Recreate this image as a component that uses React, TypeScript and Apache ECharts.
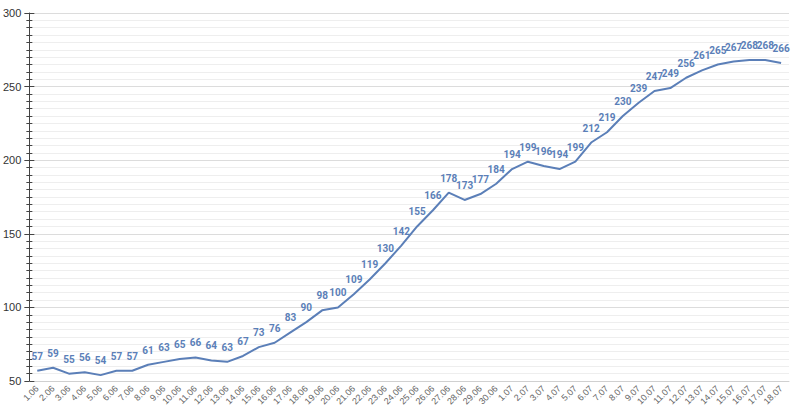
import React, { useEffect, useRef } from "react";
import * as echarts from "echarts";

const categories = [
  "1.06","2.06","3.06","4.06","5.06","6.06","7.06","8.06","9.06","10.06",
  "11.06","12.06","13.06","14.06","15.06","16.06","17.06","18.06","19.06","20.06",
  "21.06","22.06","23.06","24.06","25.06","26.06","27.06","28.06","29.06","30.06",
  "1.07","2.07","3.07","4.07","5.07","6.07","7.07","8.07","9.07","10.07",
  "11.07","12.07","13.07","14.07","15.07","16.07","17.07","18.07",
];

const values = [
  57,59,55,56,54,57,57,61,63,65,
  66,64,63,67,73,76,83,90,98,100,
  109,119,130,142,155,166,178,173,177,184,
  194,199,196,194,199,212,219,230,239,247,
  249,256,261,265,267,268,268,266,
];

const yMin = 50;
const yMax = 300;
const yStep = 50;

export default function App() {
  const ref = useRef<HTMLDivElement>(null);
  useEffect(() => {
    if (!ref.current) return;
    const chart = echarts.init(ref.current, null, { renderer: "svg" });
    const blue = "#5b7fb8";
    chart.setOption({
      animation: false,
      grid: { left: 29, right: 9, top: 13, bottom: 31, containLabel: false },
      xAxis: {
        type: "category",
        data: categories,
        boundaryGap: true,
        axisLine: { show: true, lineStyle: { color: "#d0d0d0" } },
        axisTick: { show: false },
        axisLabel: {
          interval: 0,
          rotate: 45,
          fontSize: 9,
          color: "#666",
          margin: 6,
          fontFamily: "Arial, Liberation Sans, sans-serif",
        },
        splitLine: { show: false },
      },
      yAxis: [
        {
          type: "value",
          min: yMin,
          max: yMax,
          interval: yStep,
          axisLine: { show: true, lineStyle: { color: "#444" } },
          axisTick: { show: true, length: 5, lineStyle: { color: "#444" } },
          minorTick: { show: true, splitNumber: 10, length: 3, lineStyle: { color: "#444" } },
          axisLabel: {
            color: "#333",
            fontSize: 11,
            margin: 8,
            fontFamily: "Arial, Liberation Sans, sans-serif",
          },
          splitLine: { show: true, lineStyle: { color: "#dcdcdc" } },
          minorSplitLine: { show: true, lineStyle: { color: "#eeeeee" } },
        },
        {
          type: "value",
          min: yMin,
          max: yMax,
          interval: yStep,
          position: "left",
          axisLine: { show: false },
          axisTick: { show: true, inside: true, length: 5, lineStyle: { color: "#444" } },
          minorTick: { show: true, splitNumber: 10, length: 3, lineStyle: { color: "#444" } },
          axisLabel: { show: false },
          splitLine: { show: false },
        },
      ],
      series: [
        {
          type: "line",
          data: values,
          yAxisIndex: 0,
          symbol: "circle",
          symbolSize: 1,
          showSymbol: true,
          lineStyle: { color: blue, width: 2 },
          itemStyle: { color: "rgba(0,0,0,0)", borderWidth: 0 },
          label: {
            show: true,
            position: "top",
            distance: 9,
            color: blue,
            fontSize: 10,
            fontWeight: "bold",
            fontFamily: "Roboto, sans-serif",
          },
          labelLayout: { hideOverlap: false },
        },
      ],
    });
    return () => chart.dispose();
  }, []);
  return (
    <div
      ref={ref}
      style={{ position: "absolute", left: 0, top: 0, width: 798, height: 412 }}
    />
  );
}
